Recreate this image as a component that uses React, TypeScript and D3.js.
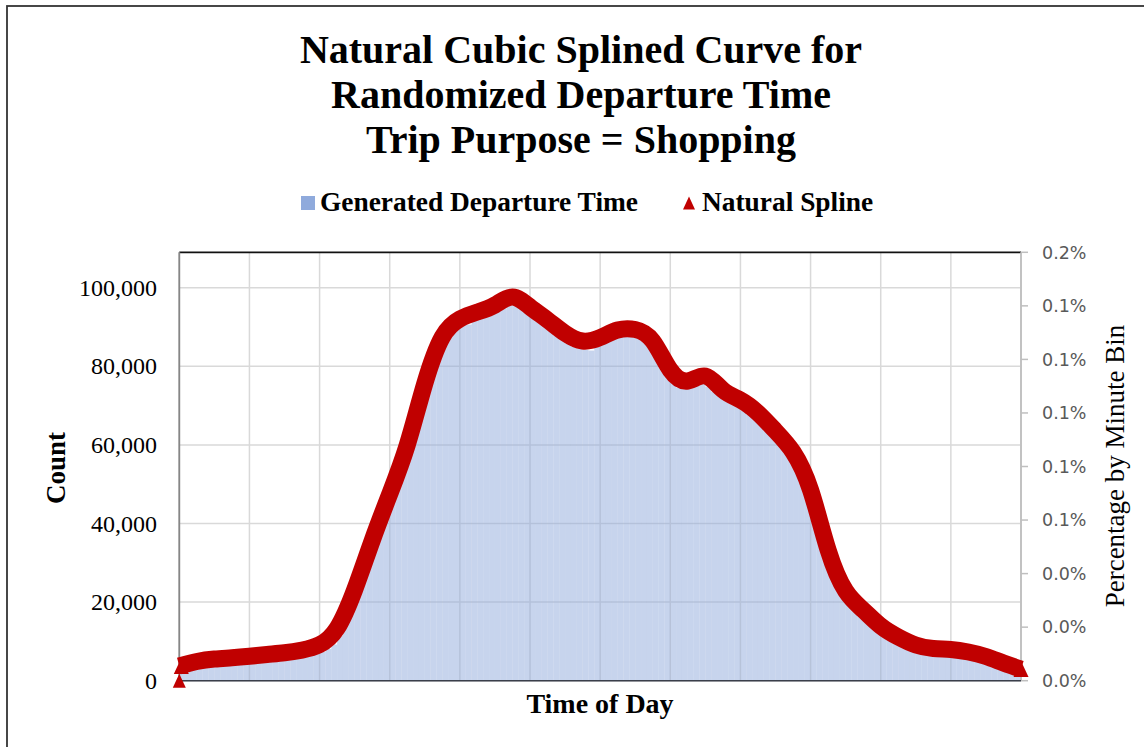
import React from "react";
import * as d3 from "d3";

// ---- Data ----
const titleLines = [
  "Natural Cubic Splined Curve for",
  "Randomized Departure Time",
  "Trip Purpose = Shopping",
];

// Generated departure time counts, 10-minute bins (minute 0..1440)
const barBinMinutes = 10;
const barCounts = [
  2200, 2600, 2950, 3250, 3450, 3650, 3850, 3950, 4000, 4100, 4250, 4350,
  4500, 4650, 4800, 4950, 5100, 5250, 5400, 5600, 5800, 6050, 6400, 6800,
  7300, 8100, 9200, 11500, 15000, 19000, 24200, 28000, 31800, 35800, 39800, 43800,
  47800, 52000, 56100, 60700, 66000, 71200, 76500, 81000, 84200, 86900, 88500, 89600,
  90800, 90600, 92000, 92400, 93400, 93300, 94300, 94700, 95500, 96200, 96000, 94500,
  92500, 91500, 90800, 89000, 87800, 86900, 85800, 85000, 84500, 84200, 84000, 85000,
  86000, 86800, 87300, 87800, 87700, 87900, 87300, 86500, 85500, 83000, 80000, 77800,
  75800, 74500, 74200, 74600, 75500, 75600, 74800, 73500, 72500, 71400, 70600, 69900,
  68700, 67600, 66700, 65300, 63700, 62200, 60500, 58800, 57000, 54700, 51500, 48200,
  44000, 38500, 33000, 28900, 25000, 22000, 19800, 18000, 16700, 15400, 13900, 12600,
  11500, 10500, 9700, 8900, 8200, 7500, 7100, 6800, 6550, 6350, 6300, 6200,
  6000, 5850, 5650, 5300, 4950, 4550, 4100, 3600, 3000, 2450, 1900, 1400,
];

// Natural spline, percentage by minute bin, knots every 30 minutes
const splineStepMinutes = 30;
const splinePct = [
  0.00686, 0.00896, 0.01013, 0.01069, 0.01139, 0.01223, 0.01303, 0.0143, 0.0168,
  0.0245, 0.0425, 0.06545, 0.08716, 0.11004, 0.13875, 0.16046, 0.16886, 0.17213,
  0.1754, 0.17913, 0.17447, 0.1684, 0.16219, 0.15859, 0.16023, 0.16373, 0.16396,
  0.15859, 0.14505, 0.13992, 0.14225, 0.13572, 0.13105, 0.12498, 0.11657, 0.10677,
  0.08903, 0.06102, 0.04188, 0.03301, 0.02554, 0.0204, 0.01667, 0.01503, 0.01457,
  0.0134, 0.0113, 0.00826, 0.00546,
];
const splineFirstPoint = { minute: 0, pct: 0 };

const leftTicks = [0, 20000, 40000, 60000, 80000, 100000];
const rightTicks = [0, 0.025, 0.05, 0.075, 0.1, 0.125, 0.15, 0.175, 0.2];
const rightTickLabels = ["0.0%", "0.0%", "0.0%", "0.1%", "0.1%", "0.1%", "0.1%", "0.1%", "0.2%"];
const xGridMinutes = d3.range(0, 1441, 120);

const legendItems = ["Generated Departure Time", "Natural Spline"];
const xTitle = "Time of Day";
const yTitle = "Count";
const y2Title = "Percentage by Minute Bin";

// ---- Layout ----
const W = 1144;
const H = 747;
const plot = { left: 179.3, right: 1021, top: 252.3, bottom: 680.7 };
const SERIF = "'Liberation Serif', 'Times New Roman', serif";
const SANS = "'DejaVu Sans', sans-serif";
const RED = "#c00000";
const BLUE = "#8faadc";

export default function App() {
  const x = d3.scaleLinear().domain([0, 1440]).range([plot.left, plot.right]);
  const yL = d3.scaleLinear().domain([0, 109000]).range([plot.bottom, plot.top]);
  const yR = d3.scaleLinear().domain([0, 0.2]).range([plot.bottom, plot.top]);

  const splinePts: [number, number][] = splinePct.map((v, i) => [i * splineStepMinutes, v]);
  const line = d3
    .line<[number, number]>()
    .x((d) => x(d[0]))
    .y((d) => yR(d[1]))
    .curve(d3.curveNatural);

  const tri = (cx: number, cy: number, w = 14, h = 14) =>
    `M${cx},${cy - h / 2}L${cx + w / 2},${cy + h / 2}L${cx - w / 2},${cy + h / 2}Z`;

  const last = splinePts[splinePts.length - 1];
  const first = splinePts[0];

  return (
    <svg
      width={W}
      height={H}
      style={{ position: "absolute", left: 0, top: 0, background: "#fff" }}
    >
      <rect x={0} y={0} width={W} height={H} fill="#fff" />
      {/* outer chart border */}
      <rect x={7} y={6} width={1300} height={900} fill="none" stroke="#333" strokeWidth={1.8} />

      {/* title */}
      {titleLines.map((t, i) => (
        <text
          key={i}
          x={581}
          y={63 + i * 45}
          textAnchor="middle"
          fontFamily={SERIF}
          fontWeight="bold"
          fontSize={40}
          fill="#000"
        >
          {t}
        </text>
      ))}

      {/* legend */}
      <rect x={301} y={196} width={14} height={14} fill={BLUE} />
      <text x={320} y={211} fontFamily={SERIF} fontWeight="bold" fontSize={27.4} fill="#000">
        {legendItems[0]}
      </text>
      <path d={tri(689, 203, 12, 13)} fill={RED} />
      <text x={702} y={211} fontFamily={SERIF} fontWeight="bold" fontSize={27.4} fill="#000">
        {legendItems[1]}
      </text>

      {/* gridlines */}
      {leftTicks.map((t) => (
        <line
          key={"h" + t}
          x1={plot.left}
          x2={plot.right}
          y1={yL(t)}
          y2={yL(t)}
          stroke="#d9d9d9"
          strokeWidth={1.5}
        />
      ))}
      {xGridMinutes.map((m) => (
        <line
          key={"v" + m}
          x1={x(m)}
          x2={x(m)}
          y1={plot.top}
          y2={plot.bottom}
          stroke="#d9d9d9"
          strokeWidth={1.5}
        />
      ))}

      {/* bars */}
      {barCounts.map((c, i) => (
        <rect
          key={"b" + i}
          x={x(i * barBinMinutes)}
          width={x((i + 1) * barBinMinutes) - x(i * barBinMinutes)}
          y={yL(c)}
          height={plot.bottom - yL(c)}
          fill={BLUE}
          fillOpacity={0.5}
        />
      ))}

      {/* axes lines */}
      <line x1={plot.left} x2={plot.right} y1={plot.top} y2={plot.top} stroke="#111" strokeWidth={1.8} />
      <line x1={plot.left} x2={plot.left} y1={plot.top} y2={plot.bottom} stroke="#868686" strokeWidth={1.8} />
      <line x1={plot.right} x2={plot.right} y1={plot.top} y2={plot.bottom} stroke="#bfbfbf" strokeWidth={1.8} />
      <line x1={plot.left} x2={plot.right} y1={plot.bottom} y2={plot.bottom} stroke="#3a3f4a" strokeWidth={1.5} />

      {/* spline */}
      <path
        d={line(splinePts) || ""}
        fill="none"
        stroke={RED}
        strokeWidth={17}
        strokeLinejoin="round"
      />
      <path d={tri(x(first[0]) + 2, yR(first[1]), 15, 16)} fill={RED} />
      <path d={tri(x(last[0]), yR(last[1]), 15, 16)} fill={RED} />
      <path d={tri(x(splineFirstPoint.minute), yR(splineFirstPoint.pct), 13, 14)} fill={RED} />

      {/* left ticks */}
      {leftTicks.map((t) => (
        <text
          key={"lt" + t}
          x={157}
          y={yL(t)}
          dy="0.34em"
          textAnchor="end"
          fontFamily={SERIF}
          fontSize={24}
          fill="#000"
        >
          {d3.format(",")(t)}
        </text>
      ))}

      {/* right ticks */}
      {rightTicks.map((t, i) => (
        <g key={"rt" + i}>
          <line x1={plot.right} x2={plot.right + 7} y1={yR(t)} y2={yR(t)} stroke="#bfbfbf" strokeWidth={1.5} />
          <text
            x={1042}
            y={yR(t)}
            dy="0.36em"
            fontFamily={SANS}
            fontSize={17.5}
            fill="#595959"
          >
            {rightTickLabels[i]}
          </text>
        </g>
      ))}

      {/* axis titles */}
      <text
        x={600}
        y={713}
        textAnchor="middle"
        fontFamily={SERIF}
        fontWeight="bold"
        fontSize={28}
        fill="#000"
      >
        {xTitle}
      </text>
      <text
        transform={`translate(65,468) rotate(-90)`}
        textAnchor="middle"
        fontFamily={SERIF}
        fontWeight="bold"
        fontSize={27}
        fill="#000"
      >
        {yTitle}
      </text>
      <text
        transform={`translate(1124,466) rotate(-90)`}
        textAnchor="middle"
        fontFamily={SERIF}
        fontSize={27}
        fill="#000"
      >
        {y2Title}
      </text>
    </svg>
  );
}
